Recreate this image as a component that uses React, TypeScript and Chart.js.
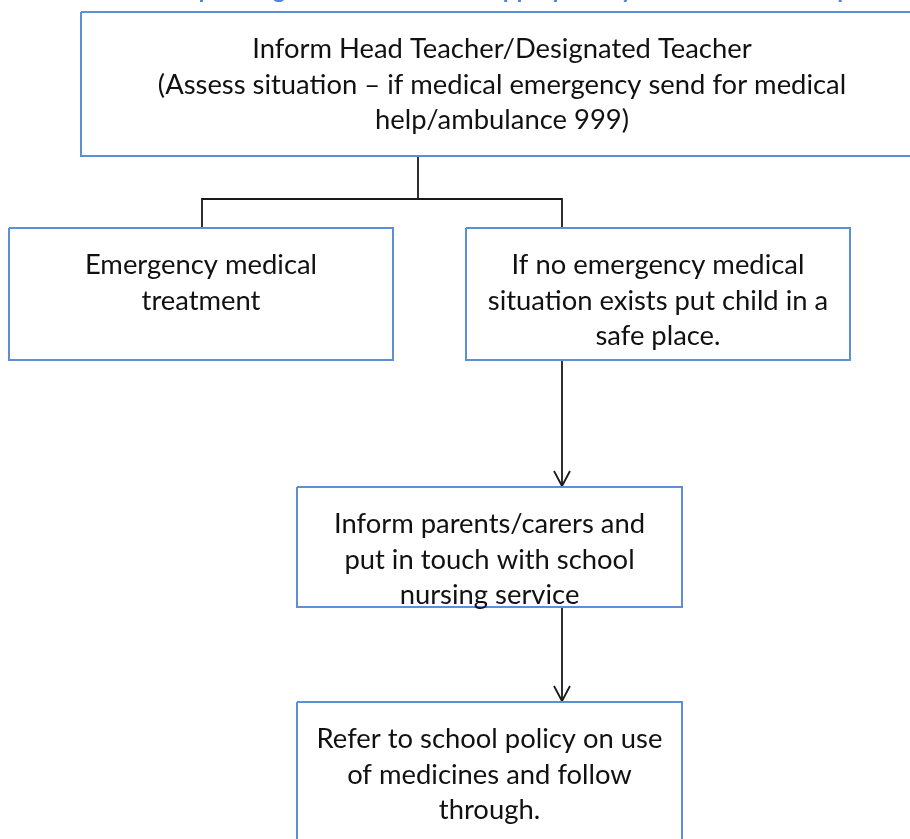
import React, { useEffect, useRef } from "react";
import { Chart, registerables } from "chart.js";

Chart.register(...registerables);

// ---- Flowchart content ----
const nodeLines: string[][] = [
  [
    "Inform Head Teacher/Designated Teacher",
    "(Assess situation \u2013 if medical emergency send for medical",
    "help/ambulance 999)",
  ],
  ["Emergency medical", "treatment"],
  ["If no emergency medical", "situation exists put child in a", "safe place."],
  ["Inform parents/carers and", "put in touch with school", "nursing service"],
  ["Refer to school policy on use", "of medicines and follow", "through."],
];

// node frame extents (drawing units, same as the 910x839 page)
const nodeLeft = [81, 9, 466, 297, 297];
const nodeRight = [923, 393, 850, 682, 682];
const nodeTop = [12, 228, 228, 487, 702];
const nodeBottom = [156, 360, 360, 607, 860];

// connectors: polylines
const connectors: { x: number; y: number }[][] = [
  [{ x: 418, y: 156 }, { x: 418, y: 199 }],
  [{ x: 202, y: 228 }, { x: 202, y: 199 }, { x: 562, y: 199 }, { x: 562, y: 228 }],
  [{ x: 562, y: 360 }, { x: 562, y: 486 }],
  [{ x: 562, y: 607 }, { x: 562, y: 701 }],
];
// arrow tips
const arrowTipX = [562, 562];
const arrowTipY = [486, 701];

const heading = "Responding to an incident of inappropriately used medicines or pills";

const BLUE = "#5B8FD8";

export default function App() {
  const ref = useRef<HTMLCanvasElement>(null);
  useEffect(() => {
    document.body.style.margin = "0";
    const canvas = ref.current!;
    const datasets: any[] = [];
    nodeLines.forEach((_, i) => {
      datasets.push({
        data: [
          { x: nodeLeft[i], y: nodeTop[i] },
          { x: nodeRight[i], y: nodeTop[i] },
          { x: nodeRight[i], y: nodeBottom[i] },
          { x: nodeLeft[i], y: nodeBottom[i] },
          { x: nodeLeft[i], y: nodeTop[i] },
        ],
        showLine: true,
        borderColor: BLUE,
        borderWidth: 2,
        pointRadius: 0,
        fill: false,
        tension: 0,
        borderJoinStyle: "miter",
      });
    });
    connectors.forEach((c) => {
      datasets.push({
        data: c,
        showLine: true,
        borderColor: "#1a1a1a",
        borderWidth: 1.8,
        pointRadius: 0,
        fill: false,
        tension: 0,
      });
    });
    arrowTipX.forEach((x, i) => {
      const y = arrowTipY[i];
      datasets.push({
        data: [
          { x: x - 8, y: y - 15 },
          { x: x, y: y },
          { x: x + 8, y: y - 15 },
        ],
        showLine: true,
        borderColor: "#1a1a1a",
        borderWidth: 1.8,
        pointRadius: 0,
        fill: false,
        tension: 0,
      });
    });

    const textPlugin = {
      id: "flowText",
      afterDatasetsDraw(chart: any) {
        const ctx = chart.ctx;
        const xs = chart.scales.x;
        const ys = chart.scales.y;
        ctx.save();
        // heading (mostly cut off above the page)
        ctx.font = "bold 24px Lato";
        ctx.fillStyle = "#4F86D6";
        ctx.textAlign = "center";
        ctx.textBaseline = "alphabetic";
        ctx.fillText(heading, xs.getPixelForValue(520), ys.getPixelForValue(-2));
        // node texts
        ctx.font = "27.4px Lato";
        ctx.fillStyle = "#111";
        ctx.textBaseline = "middle";
        nodeLines.forEach((lines, i) => {
          const cx = (nodeLeft[i] + nodeRight[i]) / 2;
          lines.forEach((ln, j) => {
            const cy = nodeTop[i] + 37.5 + j * 35.5;
            ctx.fillText(ln, xs.getPixelForValue(cx), ys.getPixelForValue(cy));
          });
        });
        ctx.restore();
      },
    };

    const chart = new Chart(canvas, {
      type: "scatter",
      data: { datasets },
      options: {
        animation: false,
        responsive: false,
        maintainAspectRatio: false,
        layout: { padding: 0 },
        plugins: { legend: { display: false }, tooltip: { enabled: false } },
        scales: {
          x: { type: "linear", min: 0, max: 910, display: false },
          y: { type: "linear", min: 0, max: 839, reverse: true, display: false },
        },
      },
      plugins: [textPlugin],
    });
    return () => chart.destroy();
  }, []);
  return (
    <div style={{ width: 910, height: 839, background: "#fff" }}>
      <canvas ref={ref} width={910} height={839} style={{ display: "block" }} />
    </div>
  );
}
